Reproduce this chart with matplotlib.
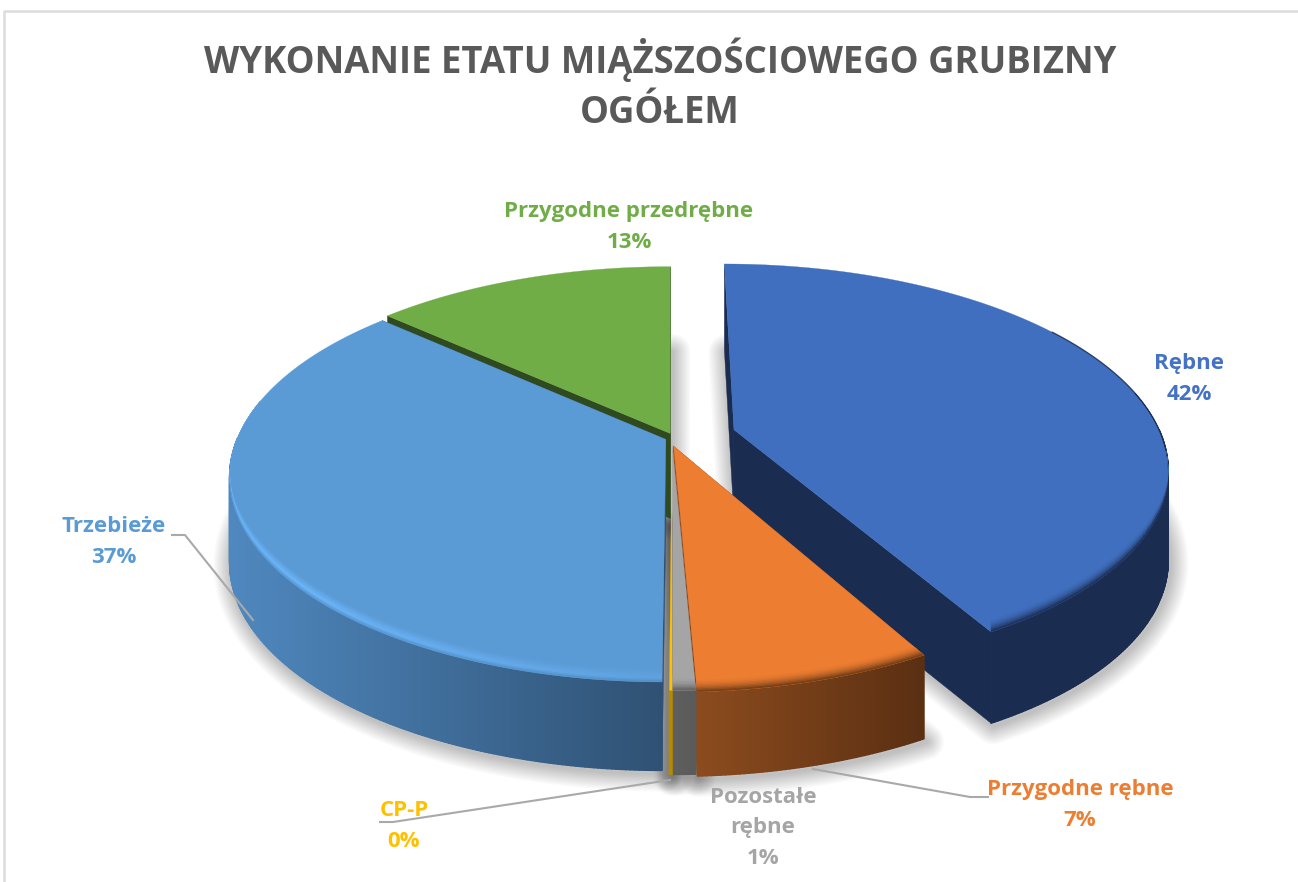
import numpy as np
import matplotlib
matplotlib.use("Agg")
import matplotlib.pyplot as plt
from matplotlib.collections import PolyCollection
from matplotlib.colors import to_rgb

W, H_PX = 1298, 882
plt.rcParams['font.family'] = ['Open Sans', 'DejaVu Sans']

# ---- data ----
categories = ["Rębne", "Przygodne rębne", "Pozostałe\nrębne", "CP-P", "Trzebieże", "Przygodne przedrębne"]
values = [41.9, 7.4, 0.7, 0.08, 36.6, 13.32]
title_text = "WYKONANIE ETATU MIĄŻSZOŚCIOWEGO GRUBIZNY\nOGÓŁEM"

# ---- style / layout ----
offset_u = [0.148, 0.006, 0.003, 0.002, -0.012, -0.002]
offset_v = [0.037, -0.046, -0.04, -0.04, -0.012, 0.018]
wall_scale = [1.04, 0.95, 0.95, 0.95, 1.0, 1.0]
top_cols = ["#406fbf", "#ed7d31", "#a5a5a5", "#ffc000", "#5b9bd5", "#70ad47"]
label_cols = ["#4472c4", "#ed7d31", "#a5a5a5", "#ffc000", "#5b9bd5", "#70ad47"]
wall_l = ["#1a2c50", "#8c4b1e", "#5f5f5f", "#b58a00", "#4f88bf", "#2f4a1e"]
wall_r = ["#1a2c50", "#5a2f12", "#5a5a5a", "#b58a00", "#2f5173", "#2f4a1e"]
draw_order = [5, 0, 4, 1, 2, 3]
label_pos = [(1189, 379), (1080, 805), (763, 828), (404, 826), (114, 542), (629, 227)]
CX, CY, R, K, P, HT = 671, 437, 428, 198, 0.18, 85


def rgb(c):
    return np.array(to_rgb(c))


def project(u, v, du, dv):
    U = u + du
    V = v + dv
    s = 1 / (1 + P * V)
    return CX + R * U * s, CY - K * V * s, HT * s ** 0.2


fig = plt.figure(figsize=(W / 100, H_PX / 100), dpi=100, facecolor="white")
ax = fig.add_axes([0, 0, 1, 1])
ax.set_xlim(0, W)
ax.set_ylim(H_PX, 0)
ax.axis("off")

fr = np.cumsum([0] + values) / np.sum(values)
geom = []
for i in range(len(values)):
    a0 = np.pi / 2 - 2 * np.pi * fr[i]
    a1 = np.pi / 2 - 2 * np.pi * fr[i + 1]
    n = max(3, int(abs(a1 - a0) * 180 / np.pi * 2))
    th = np.linspace(a0, a1, n)
    x, y, h = project(np.cos(th), np.sin(th), offset_u[i], offset_v[i])
    ax_, ay_, ah_ = project(0.0, 0.0, offset_u[i], offset_v[i])
    geom.append(dict(th=th, x=x, y=y, h=h * wall_scale[i], ax=ax_, ay=ay_, ah=ah_ * wall_scale[i]))

# soft shadow
for g in geom:
    px = np.r_[g["ax"], g["x"]] + 2
    py = np.r_[g["ay"] + g["ah"], g["y"] + g["h"]] + 3
    for w in range(26, 0, -2):
        ax.fill(px, py, facecolor="none", edgecolor=(0, 0, 0, 0.018), lw=w,
                joinstyle="round", zorder=1)

z = 2
for i in draw_order:
    g = geom[i]
    x, y, h, th = g["x"], g["y"], g["h"], g["th"]
    # radial walls (the thin grey and yellow slices only show their front)
    if i not in (2, 3):
        for j in (0, -1):
            ax.fill([g["ax"], x[j], x[j], g["ax"]],
                    [g["ay"], y[j], y[j] + h[j], g["ay"] + g["ah"]],
                    color=wall_l[i] if i != 4 else wall_r[i], lw=0.3, zorder=z)
    z += 1
    # outer wall with gradient
    quads, cols = [], []
    xmin, xmax = x.min(), x.max()
    for k in range(len(th) - 1):
        if np.sin(th[k]) > 0.0:
            continue
        quads.append([(x[k], y[k]), (x[k + 1], y[k + 1]),
                      (x[k + 1], y[k + 1] + h[k + 1]), (x[k], y[k] + h[k])])
        t = (0.5 * (x[k] + x[k + 1]) - xmin) / max(1, xmax - xmin)
        cols.append((1 - t) * rgb(wall_l[i]) + t * rgb(wall_r[i]))
    if quads:
        ax.add_collection(PolyCollection(quads, facecolors=cols, edgecolors=cols,
                                         linewidths=1.0, zorder=z))
    z += 1
    # top face
    face = ax.fill(np.r_[g["ax"], x], np.r_[g["ay"], y], color=top_cols[i], lw=0.2, zorder=z)[0]
    z += 1
    # bevel on the front rim, kept inside the top face
    if i in (0, 1, 2, 4):
        quads, cols = [], []
        base = rgb(top_cols[i])
        edge = rgb(wall_l[i]) if i != 1 else rgb("#6a3a16")
        hi = rgb("#6cb6fb")
        layers = np.linspace(1, 0, 10)
        for k in range(len(th) - 1):
            v = np.sin(th[k])
            u = np.cos(th[k])
            d = 13 * np.clip((0.22 - v) / 0.8, 0, 1)
            if d < 0.4:
                continue
            for a, b in zip(layers[:-1], layers[1:]):
                quads.append([(x[k], y[k] - a * d), (x[k + 1], y[k + 1] - a * d),
                              (x[k + 1], y[k + 1] - b * d), (x[k], y[k] - b * d)])
                m = 0.5 * (a + b)
                if i == 4:
                    st = np.clip(0.3 - u, 0, 1)
                    hic = (1 - st) * base + st * hi
                    if m > 0.3:
                        c = base + (hic - base) * (1 - m) / 0.7
                    else:
                        c = hic + (rgb("#4a7fb0") - hic) * (0.3 - m) / 0.3 * 0.6
                else:
                    c = base + (edge - base) * (1 - m) ** 2
                cols.append(c)
        rim = PolyCollection(quads, facecolors=cols, edgecolors=cols, linewidths=0.5, zorder=z)
        ax.add_collection(rim)
        rim.set_clip_path(face)
        z += 1
    # thin dark line on the upper right of the blue arc
    if i == 0:
        keep = (np.sin(th) < 0.55) & (np.sin(th) > -0.1)
        ax.plot(x[keep], y[keep], color=wall_l[0], lw=1.0, alpha=0.8, zorder=z)
        z += 1

# leader lines
lead = "#a9a9a9"
ax.plot([172, 185, 253], [535, 535, 620], color=lead, lw=1.5, zorder=z)
ax.plot([813, 970, 988], [769, 797, 797], color=lead, lw=1.5, zorder=z)
ax.plot([380, 393, 670], [822, 822, 780], color=lead, lw=1.5, zorder=z)

# labels
for name, val, pos, c in zip(categories, values, label_pos, label_cols):
    ax.text(pos[0], pos[1], f"{name}\n{round(val)}%", color=c, ha="center", va="center",
            fontsize=16, fontweight="bold", linespacing=1.62, zorder=z + 1)

ax.text(660, 85, title_text, color="#595959", ha="center", va="center",
        fontsize=26.3, fontweight="bold", linespacing=1.42, zorder=z + 1)

# chart frame
ax.plot([4, 4, 1298], [882, 11, 11], color="#dcdcdc", lw=1.8, zorder=0)

fig.savefig("out.png", dpi=100)
